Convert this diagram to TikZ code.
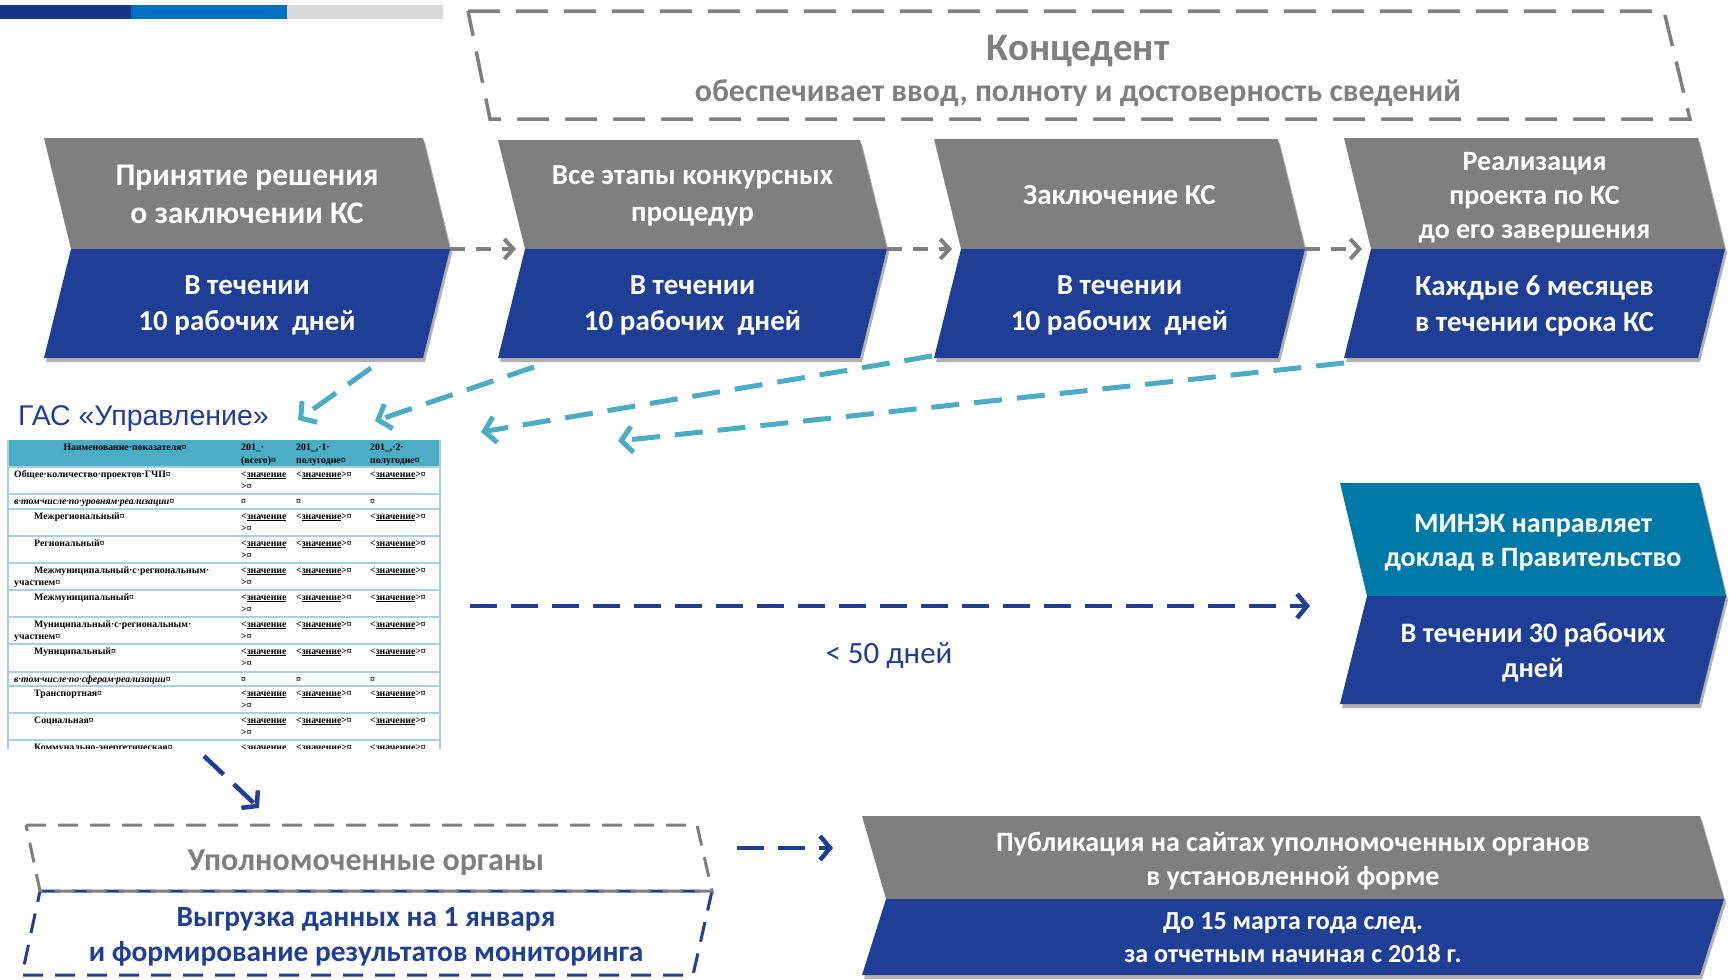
\documentclass[tikz,border=0pt]{standalone}
\usepackage{fontspec}
\setmainfont{Carlito}
\newfontfamily\tabfont{Liberation Serif}
\newfontfamily\gasfont{Liberation Sans}
\usetikzlibrary{arrows.meta,shadows}
\definecolor{cgray}{HTML}{7F7F7F}
\definecolor{cblue}{HTML}{1F3F96}
\definecolor{cteal}{HTML}{0079A6}
\definecolor{clight}{HTML}{4BACC6}
\definecolor{tline}{HTML}{A3D3E0}
\definecolor{bar1}{HTML}{16368A}
\definecolor{bar2}{HTML}{0070C0}
\definecolor{bar3}{HTML}{D9D9D9}
\tikzset{
  chshadow/.style={drop shadow={shadow xshift=2pt,shadow yshift=-4pt,opacity=0.3,fill=black}},
  chtext/.style={text=white,align=center,inner sep=0pt},
  garrow/.style={draw=cgray,line width=4pt,dash pattern=on 15pt off 11pt,-{Straight Barb[length=9pt,width=20pt,line width=4pt]}},
  tarrow/.style={draw=clight,line width=5pt,dash pattern=on 28pt off 15pt,-{Straight Barb[length=11pt,width=26pt,line width=5pt]}},
  narrow/.style={draw=cblue,line width=4.5pt,dash pattern=on 27pt off 14pt,-{Straight Barb[length=10pt,width=24pt,line width=4.5pt]}},
  tt/.style={inner sep=0pt,font=\tabfont\bfseries\fontsize{9.8}{10}\selectfont},
  ti/.style={inner sep=0pt,font=\tabfont\bfseries\itshape\fontsize{9.8}{10}\selectfont},
  tl/.style={draw=tline,line width=1.6pt},
}
\def\cdx{27}
% name xl xr ytop ymid ybot topcolor toptext bottext
\newcommand{\chev}[9]{%
  \fill[#7,chshadow] (#2,#4) -- (#3,#4) -- ({#3+\cdx},#5) -- ({#2+\cdx},#5) -- cycle;
  \fill[cblue,chshadow] ({#2+\cdx},#5) -- ({#3+\cdx},#5) -- (#3,#6) -- (#2,#6) -- cycle;
  \node[chtext,font=\topfnt] (#1t) at ({(#2+#3+\cdx)/2},{(#4+#5)/2+\tdy}) {#8};
  \node[chtext,font=\botfnt] (#1b) at ({(#2+#3+\cdx)/2},{(#5+#6)/2+\bdy}) {#9};
  \coordinate (#1r) at ({#3+\cdx},#5);
  \coordinate (#1l) at ({#2+\cdx},#5);
}
\def\tdy{1}\def\bdy{2}
\newcommand{\topfnt}{\bfseries\fontsize{31.5}{38}\selectfont}
\newcommand{\botfnt}{\bfseries\fontsize{29}{36}\selectfont}
\newcommand{\zn}{\underline{значение}}
\begin{document}
\begin{tikzpicture}[x=1pt,y=-1pt]
\useasboundingbox (0,0) rectangle (1730,980);
% top bar
\fill[bar1] (0,5) rectangle (131,19);
\fill[bar2] (131,5) rectangle (287,19);
\fill[bar3] (287,5) rectangle (443,19);
% Koncedent
\draw[cgray,line width=3.5pt,dash pattern=on 32pt off 16pt] (468,11) -- (1664,11) -- (1690,119) -- (490,119) -- cycle;
\node[text=cgray,font=\bfseries\fontsize{39}{44}\selectfont,inner sep=0] (konc) at (1078,51) {Концедент};
\node[text=cgray,font=\bfseries\fontsize{31.8}{36}\selectfont,inner sep=0] (konc2) at (1078,93) {обеспечивает ввод, полноту и достоверность сведений};
% row 1 chevrons
\chev{b1}{44}{423}{138}{249}{358}{cgray}{Принятие решения\\о заключении КС}{В течении\\10 рабочих\ \ дней}
\renewcommand{\topfnt}{\bfseries\fontsize{29}{37}\selectfont}
\chev{b2}{498}{860}{140}{249}{358}{cgray}{Все этапы конкурсных\\процедур}{В течении\\10 рабочих\ \ дней}
\chev{b3}{934}{1278}{139}{249}{358}{cgray}{Заключение КС}{В течении\\10 рабочих\ \ дней}
\renewcommand{\topfnt}{\bfseries\fontsize{28}{34}\selectfont}
\def\tdy{4}
\chev{b4}{1344}{1698}{138}{249}{358}{cgray}{Реализация\\проекта по КС\\до его завершения}{Каждые 6 месяцев\\в течении срока КС}
\renewcommand{\topfnt}{\bfseries\fontsize{28}{34.5}\selectfont}
\renewcommand{\botfnt}{\bfseries\fontsize{28.2}{35}\selectfont}
\def\tdy{3}\def\bdy{3}
\chev{mn}{1340}{1699}{483}{596}{704}{cteal}{МИНЭК направляет\\доклад в Правительство}{В течении 30 рабочих\\дней}
\def\cdx{24}
\def\tdy{4}\def\bdy{1}
\renewcommand{\topfnt}{\bfseries\fontsize{28}{34}\selectfont}
\renewcommand{\botfnt}{\bfseries\fontsize{26}{33}\selectfont}
\chev{pb}{862}{1700}{816}{899}{975}{cgray}{Публикация на сайтах уполномоченных органов\\в установленной форме}{До 15 марта года след.\\за отчетным начиная с 2018 г.}
% gray arrows
\draw[garrow,shorten >=9pt] (b1r) -- (b2l);
\draw[garrow,shorten >=9pt] (b2r) -- (b3l);
\draw[garrow,shorten >=9pt] (b3r) -- (b4l);
% GAS label and table
\node[text=cblue,font=\gasfont\fontsize{28.5}{32}\selectfont,inner sep=0,anchor=base west] (gas) at (18,425) {ГАС «Управление»};
\node[inner sep=0,minimum width=433pt,minimum height=309pt,anchor=north west] (tab) at (8,439) {};
\begin{scope}
\clip (7,439) rectangle (442,748);
\fill[clight] (8,440) rectangle (440,467);
\foreach \y in {467,494,509,536,563,590,617,644,672,686,713,740} \draw[tl] (8,\y) -- (440,\y);
\draw[tl] (8,440) -- (8,760);
\draw[tl] (440,440) -- (440,760);
\node[tt,anchor=base] (h1) at (125,450) {Наименование·показателя¤};
\node[tt,anchor=base west] (h2) at (241,450) {201\_·};
\node[tt,anchor=base west] (h3) at (241,463) {(всего)¤};
\node[tt,anchor=base west] (h4) at (296,450) {201\_,·1·};
\node[tt,anchor=base west] (h5) at (296,463) {полугодие¤};
\node[tt,anchor=base west] (h6) at (370,450) {201\_,·2·};
\node[tt,anchor=base west] (h7) at (370,463) {полугодие¤};
\foreach \t/\lab/\x in {467/Общее·количество·проектов·ГЧП¤/14,509/Межрегиональный¤/34,536/Региональный¤/34,563/Межмуниципальный·с·региональным·/34,590/Межмуниципальный¤/34,617/Муниципальный·с·региональным·/34,644/Муниципальный¤/34,686/Транспортная¤/34,713/Социальная¤/34,740/Коммунально-энергетическая¤/34}{
  \node[tt,anchor=base west] (lab\t) at (\x,{\t+10}) {\lab};
  \node[tt,anchor=base west] (va\t) at (241,{\t+10}) {<\zn};
  \node[tt,anchor=base west] (vb\t) at (241,{\t+22}) {>¤};
  \node[tt,anchor=base west] (vc\t) at (296,{\t+10}) {<\zn>¤};
  \node[tt,anchor=base west] (vd\t) at (370,{\t+10}) {<\zn>¤};
}
\node[tt,anchor=base west] (lab563b) at (14,585) {участием¤};
\node[tt,anchor=base west] (lab617b) at (14,639) {участием¤};
\foreach \t/\lab in {494/в·том·числе·по·уровням·реализации¤,672/в·том·числе·по·сферам·реализации¤}{
  \node[ti,anchor=base west] (it\t) at (14,{\t+10}) {\lab};
  \node[tt,anchor=base west] (ia\t) at (241,{\t+10}) {¤};
  \node[tt,anchor=base west] (ib\t) at (296,{\t+10}) {¤};
  \node[tt,anchor=base west] (ic\t) at (370,{\t+10}) {¤};
}
\end{scope}
% teal arrows to GAS
\coordinate (s1) at (371,368); \coordinate (e1) at (298,420);
\coordinate (s2) at (534,367); \coordinate (e2) at (375,421);
\coordinate (s3) at (932,356); \coordinate (e3) at (481,432);
\coordinate (s4) at (1344,363); \coordinate (e4) at (618,441);
\draw[tarrow] (s1) -- (e1);
\draw[tarrow] (s2) -- (e2);
\draw[tarrow] (s3) -- (e3);
\draw[tarrow] (s4) -- (e4);
% navy arrow to MINEK
\coordinate (n1) at (470,606); \coordinate (n1e) at (1310,606);
\draw[narrow] (n1) -- (n1e);
\node[text=cblue,font=\fontsize{31}{34}\selectfont,inner sep=0] (days) at (889,656) {< 50 дней};
% Upolnomochennye box
\draw[cblue,line width=3pt,dash pattern=on 20pt off 12pt] (40,891) -- (712,891) -- (693,975) -- (22,975) -- cycle;
\draw[cgray,line width=3pt,dash pattern=on 20pt off 12pt] (26,825) -- (697,825) -- (712,891) -- (40,891) -- cycle;
\node[text=cgray,font=\bfseries\fontsize{32}{36}\selectfont,inner sep=0] (up) at (366,863) {Уполномоченные органы};
\node[text=cblue,font=\bfseries\fontsize{29.4}{35.5}\selectfont,align=center,inner sep=0] (upb) at (366,937) {Выгрузка данных на 1 января\\и формирование результатов мониторинга};
\coordinate (n2) at (204,756); \coordinate (n3) at (259,808);
\draw[narrow] (n2) -- (n3);
\coordinate (n4) at (737,848); \coordinate (n5) at (833,848);
\draw[narrow] (n4) -- (n5);
\end{tikzpicture}
\end{document}
